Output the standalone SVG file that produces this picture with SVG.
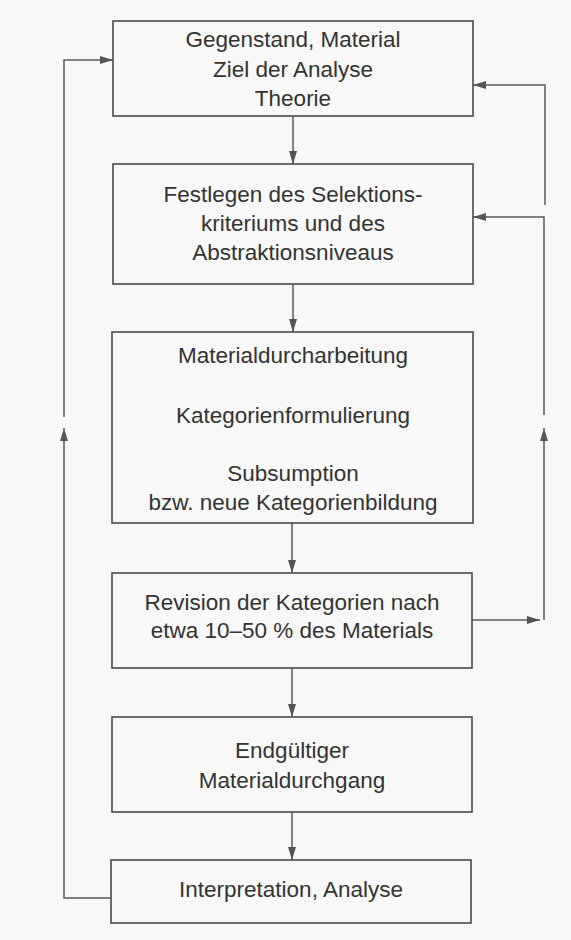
<svg xmlns="http://www.w3.org/2000/svg" width="571" height="940" viewBox="0 0 571 940">
<defs>
<marker id="ah" markerWidth="13" markerHeight="8" refX="13" refY="4" orient="auto" markerUnits="userSpaceOnUse">
<path d="M0,0 L13,4 L0,8 z" fill="#555"/>
</marker>
<style>
.box{fill:none;stroke:#4a4a4a;stroke-width:1.6}
.t{font-family:"Liberation Sans",Arial,sans-serif;font-size:22.5px;fill:#333;text-anchor:middle}
.c{fill:none;stroke:#5a5a5a;stroke-width:1.5}
</style>
</defs>
<rect x="0" y="0" width="571" height="940" fill="#f8f8f8"/>
<g id="connectors">
<line class="c" x1="293" y1="116" x2="293" y2="164" marker-end="url(#ah)"/>
<line class="c" x1="293" y1="284" x2="293" y2="332" marker-end="url(#ah)"/>
<line class="c" x1="292" y1="523" x2="292" y2="573" marker-end="url(#ah)"/>
<line class="c" x1="292" y1="668" x2="292" y2="717" marker-end="url(#ah)"/>
<line class="c" x1="292" y1="812" x2="292" y2="860" marker-end="url(#ah)"/>
<polyline class="c" points="111,898 64,898 64,428" marker-end="url(#ah)"/>
<polyline class="c" points="64,417 64,60 113,60" marker-end="url(#ah)"/>
<line class="c" x1="472" y1="620" x2="540" y2="620" marker-end="url(#ah)"/>
<line class="c" x1="544" y1="620" x2="544" y2="428" marker-end="url(#ah)"/>
<polyline class="c" points="544,415 544,217 473,217" marker-end="url(#ah)"/>
<polyline class="c" points="545,205 545,85 473,85" marker-end="url(#ah)"/>
</g>
<g id="n1">
<rect class="box" x="113" y="21" width="360" height="95"/>
<text class="t" x="293" y="47">Gegenstand, Material</text>
<text class="t" x="293" y="77">Ziel der Analyse</text>
<text class="t" x="293" y="106">Theorie</text>
</g>
<g id="n2">
<rect class="box" x="113" y="164" width="360" height="120"/>
<text class="t" x="293" y="202">Festlegen des Selektions-</text>
<text class="t" x="293" y="231">kriteriums und des</text>
<text class="t" x="293" y="260">Abstraktionsniveaus</text>
</g>
<g id="n3">
<rect class="box" x="112" y="332" width="361" height="191"/>
<text class="t" x="293" y="363">Materialdurcharbeitung</text>
<text class="t" x="293" y="423">Kategorienformulierung</text>
<text class="t" x="293" y="481">Subsumption</text>
<text class="t" x="293" y="510">bzw. neue Kategorienbildung</text>
</g>
<g id="n4">
<rect class="box" x="112" y="573" width="360" height="95"/>
<text class="t" x="292" y="610">Revision der Kategorien nach</text>
<text class="t" x="292" y="638">etwa 10–50 % des Materials</text>
</g>
<g id="n5">
<rect class="box" x="112" y="717" width="360" height="95"/>
<text class="t" x="292" y="758">Endgültiger</text>
<text class="t" x="292" y="788">Materialdurchgang</text>
</g>
<g id="n6">
<rect class="box" x="111" y="860" width="360" height="63"/>
<text class="t" x="291" y="897">Interpretation, Analyse</text>
</g>
</svg>
